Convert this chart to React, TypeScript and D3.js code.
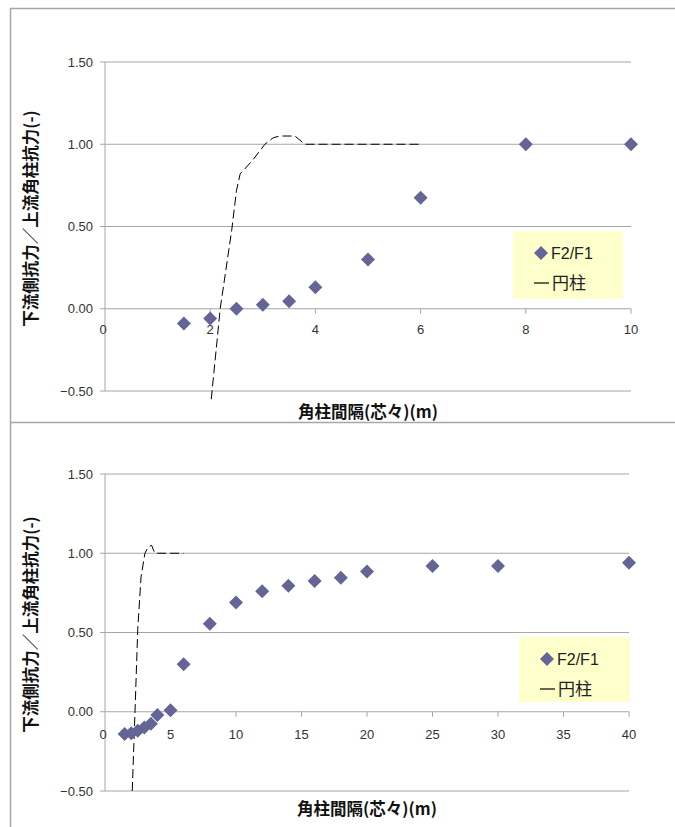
import React from "react";
import * as d3 from "d3";

const topX = [1.5, 2, 2.5, 3, 3.5, 4, 5, 6, 8, 10];
const topY = [-0.09, -0.06, 0.0, 0.025, 0.045, 0.13, 0.3, 0.675, 1.0, 1.0];
const topCylX = [2.02, 2.19, 2.41, 2.5, 2.57, 2.8, 3.04, 3.2, 3.33, 3.61, 3.8, 6.0];
const topCylY = [-0.55, 0.0, 0.48, 0.72, 0.82, 0.9, 1.0, 1.04, 1.05, 1.05, 1.0, 1.0];
const topXTicks = [0, 2, 4, 6, 8, 10];

const botX = [1.5, 2, 2.5, 3, 3.5, 4, 5, 6, 8, 10, 12, 14, 16, 18, 20, 25, 30, 40];
const botY = [-0.14, -0.135, -0.12, -0.1, -0.075, -0.02, 0.01, 0.3, 0.555, 0.69, 0.76, 0.795, 0.825, 0.845, 0.885, 0.92, 0.92, 0.94];
const botCylX = [2.08, 2.29, 2.5, 2.75, 3.05, 3.3, 3.56, 3.8, 6.0];
const botCylY = [-0.5, 0.0, 0.52, 0.85, 1.0, 1.04, 1.05, 1.0, 1.0];
const botXTicks = [0, 5, 10, 15, 20, 25, 30, 35, 40];

const yTicks = [-0.5, 0, 0.5, 1.0, 1.5];
const seriesName = "F2/F1";
const lineName = "円柱";
const xTitle = "角柱間隔(芯々)(m)";
const yTitle = "下流側抗力／上流角柱抗力(-)";

const GRID = "#a6a6a6";
const MARK = "#646496";
const JP = "'Noto Sans CJK JP', sans-serif";
const NUM = "'Liberation Sans', Arial, sans-serif";

type PanelProps = {
  xs: number[];
  ys: number[];
  cx: number[];
  cy: number[];
  xTicks: number[];
  xMax: number;
  x0: number;
  x1: number;
  yTop: number;
  yBot: number;
  tickDy: number;
  titleY: number;
  legend: { x: number; y: number; w: number; h: number };
};

function Panel(p: PanelProps) {
  const x = d3.scaleLinear().domain([0, p.xMax]).range([p.x0, p.x1]);
  const y = d3.scaleLinear().domain([-0.5, 1.5]).range([p.yBot, p.yTop]);
  const line = d3
    .line<number>()
    .x((_, i) => x(p.cx[i]))
    .y((d) => y(d));
  const diamond = (cxp: number, cyp: number, r: number) =>
    `M${cxp},${cyp - r}L${cxp + r},${cyp}L${cxp},${cyp + r}L${cxp - r},${cyp}Z`;
  const L = p.legend;
  return (
    <g>
      {yTicks.map((t) => (
        <g key={t}>
          <line x1={p.x0 - 5} x2={p.x1} y1={y(t)} y2={y(t)} stroke={GRID} strokeWidth={1} />
          <text x={p.x0 - 12} y={y(t)} dy="0.35em" textAnchor="end" fontFamily={NUM} fontSize={13} fill="#333">
            {t < 0 ? "−" + Math.abs(t).toFixed(2) : t.toFixed(2)}
          </text>
        </g>
      ))}
      <line x1={p.x0} x2={p.x0} y1={p.yTop} y2={p.yBot} stroke={GRID} strokeWidth={1} />
      {p.xTicks.map((t) => (
        <g key={t}>
          {t > 0 && <line x1={x(t)} x2={x(t)} y1={y(0)} y2={y(0) + 5} stroke={GRID} strokeWidth={1} />}
          <text x={x(t) - (t === 0 ? 2 : 0)} y={y(0) + p.tickDy} dy="0.35em" textAnchor="middle" fontFamily={NUM} fontSize={13} fill="#333">
            {t}
          </text>
        </g>
      ))}
      <path d={line(p.cy) || ""} fill="none" stroke="#000" strokeWidth={1} strokeDasharray="9,4" />
      {p.xs.map((v, i) => (
        <path key={i} d={diamond(x(v), y(p.ys[i]), 7)} fill={MARK} />
      ))}
      <rect x={L.x} y={L.y} width={L.w} height={L.h} fill="#ffffcc" />
      <path d={diamond(L.x + 28, L.y + 22, 7)} fill={MARK} />
      <text x={L.x + 38} y={L.y + 22} dy="0.35em" fontFamily={NUM} fontSize={16} fill="#222">
        {seriesName}
      </text>
      <line x1={L.x + 21} x2={L.x + 36} y1={L.y + 52} y2={L.y + 52} stroke="#000" strokeWidth={1.2} />
      <text x={L.x + 39} y={L.y + 52} dy="0.35em" fontFamily={JP} fontSize={17} fill="#222">
        {lineName}
      </text>
      <text x={(p.x0 + p.x1) / 2} y={p.titleY} dy="0.35em" textAnchor="middle" fontFamily={JP} fontSize={16.5} fontWeight="bold" fill="#111">
        {xTitle}
      </text>
      <text
        transform={`translate(31,${(p.yTop + p.yBot) / 2 - 8}) rotate(-90)`}
        dy="0.35em"
        textAnchor="middle"
        fontFamily={JP}
        fontSize={16.5}
        fontWeight="bold"
        fill="#111"
      >
        {yTitle}
      </text>
    </g>
  );
}

export default function App() {
  return (
    <svg width={675} height={827} style={{ position: "absolute", left: 0, top: 0, background: "#fff" }}>
      <rect x={0} y={0} width={675} height={827} fill="#fff" />
      <line x1={10} x2={675} y1={8.5} y2={8.5} stroke={GRID} strokeWidth={1.5} />
      <line x1={10.5} x2={10.5} y1={8} y2={827} stroke={GRID} strokeWidth={1.5} />
      <line x1={10} x2={675} y1={422.5} y2={422.5} stroke={GRID} strokeWidth={1.5} />
      <Panel
        xs={topX}
        ys={topY}
        cx={topCylX}
        cy={topCylY}
        xTicks={topXTicks}
        xMax={10}
        x0={105}
        x1={631}
        yTop={62}
        yBot={391}
        tickDy={21}
        titleY={412}
        legend={{ x: 513, y: 231, w: 110, h: 68 }}
      />
      <Panel
        xs={botX}
        ys={botY}
        cx={botCylX}
        cy={botCylY}
        xTicks={botXTicks}
        xMax={40}
        x0={105}
        x1={629}
        yTop={474}
        yBot={791}
        tickDy={23}
        titleY={809}
        legend={{ x: 519, y: 637, w: 111, h: 65 }}
      />
    </svg>
  );
}
